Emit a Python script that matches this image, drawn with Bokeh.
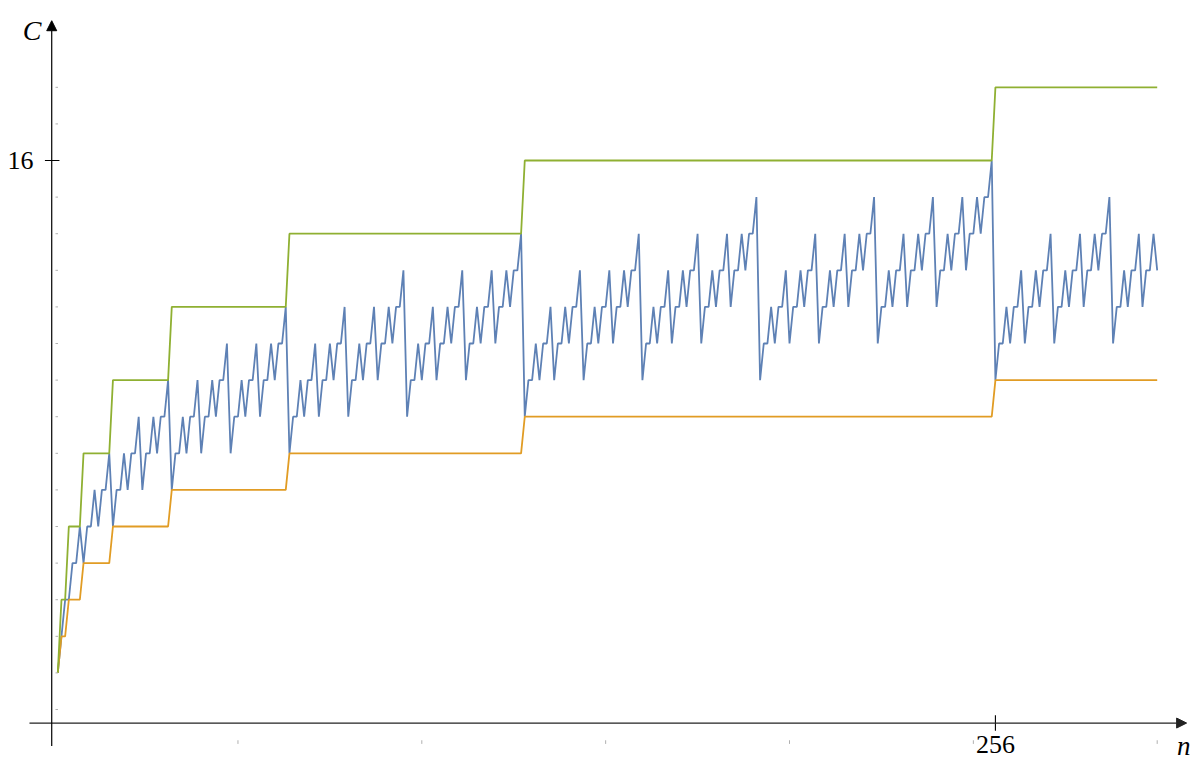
from bokeh.plotting import figure
from bokeh.models import Arrow, NormalHead, Label, Range1d
from bokeh.embed import file_html
from bokeh.resources import INLINE

# ---- data ----
n_values = list(range(1, 301))
blue_C = [
    2,
    3, 4,
    4, 5, 5, 6,
    5, 6, 6, 7, 6, 7, 7, 8,
    6, 7, 7, 8, 7, 8, 8, 9, 7, 8, 8, 9, 8, 9, 9, 10,
    7, 8, 8, 9, 8, 9, 9, 10, 8, 9, 9, 10, 9, 10, 10, 11,
    8, 9, 9, 10, 9, 10, 10, 11, 9, 10, 10, 11, 10, 11, 11, 12,
    8, 9, 9, 10, 9, 10, 10, 11, 9, 10, 10, 11, 10, 11, 11, 12,
    9, 10, 10, 11, 10, 11, 11, 12, 10, 11, 11, 12, 11, 12, 12, 13,
    9, 10, 10, 11, 10, 11, 11, 12, 10, 11, 11, 12, 11, 12, 12, 13,
    10, 11, 11, 12, 11, 12, 12, 13, 11, 12, 12, 13, 12, 13, 13, 14,
    9, 10, 10, 11, 10, 11, 11, 12, 10, 11, 11, 12, 11, 12, 12, 13,
    10, 11, 11, 12, 11, 12, 12, 13, 11, 12, 12, 13, 12, 13, 13, 14,
    10, 11, 11, 12, 11, 12, 12, 13, 11, 12, 12, 13, 12, 13, 13, 14,
    11, 12, 12, 13, 12, 13, 13, 14, 12, 13, 13, 14, 13, 14, 14, 15,
    10, 11, 11, 12, 11, 12, 12, 13, 11, 12, 12, 13, 12, 13, 13, 14,
    11, 12, 12, 13, 12, 13, 13, 14, 12, 13, 13, 14, 13, 14, 14, 15,
    11, 12, 12, 13, 12, 13, 13, 14, 12, 13, 13, 14, 13, 14, 14, 15,
    12, 13, 13, 14, 13, 14, 14, 15, 13, 14, 14, 15, 14, 15, 15, 16,
    10, 11, 11, 12, 11, 12, 12, 13, 11, 12, 12, 13, 12, 13, 13, 14,
    11, 12, 12, 13, 12, 13, 13, 14, 12, 13, 13, 14, 13, 14, 14, 15,
    11, 12, 12, 13, 12, 13, 13, 14, 12, 13, 13, 14, 13,
]
block_start = [1, 2, 4, 8, 16, 32, 64, 128, 256]
block_end = [1, 3, 7, 15, 31, 63, 127, 255, 300]
upper_C = [2, 4, 6, 8, 10, 12, 14, 16, 18]
lower_C = [2, 3, 4, 5, 6, 7, 8, 9, 10]

y_major = [16]
y_minor = [1, 2, 3, 4, 5, 6, 7, 8, 9, 10, 11, 12, 13, 14, 15, 17, 18]
x_major = [256]
x_minor = [50, 100, 150, 200, 250, 300]

BLUE = "#5E81B5"
ORANGE = "#E19C24"
GREEN = "#8FB032"

# axes crossing point (as drawn in the reference)
AX_X = -0.65
AX_Y = 0.63

p = figure(width=1197, height=760,
           x_range=Range1d(-14.58, 310.96), y_range=Range1d(-0.393, 20.372),
           output_backend="svg", toolbar_location=None, min_border=0,
           x_axis_location=None, y_axis_location=None)
p.grid.visible = False
p.outline_line_color = None
p.background_fill_color = "white"
p.border_fill_color = "white"

def steps(starts, ends, levels):
    xs, ys = [], []
    for s, e, v in zip(starts, ends, levels):
        xs += [s, e]
        ys += [v, v]
    return xs, ys

p.line(n_values, blue_C, line_color=BLUE, line_width=1.8)
ox, oy = steps(block_start, block_end, lower_C)
p.line(ox, oy, line_color=ORANGE, line_width=1.8)
gx, gy = steps(block_start, block_end, upper_C)
p.line(gx, gy, line_color=GREEN, line_width=1.8)

# axes with arrowheads
p.add_layout(Arrow(x_start=-6.7, y_start=AX_Y, x_end=308.0, y_end=AX_Y,
                   line_color="#222222", line_width=1.2,
                   end=NormalHead(size=10, fill_color="#222222", line_color="#222222")))
p.add_layout(Arrow(x_start=AX_X, y_start=0.0, x_end=AX_X, y_end=19.82,
                   line_color="black", line_width=1.2,
                   end=NormalHead(size=10, fill_color="black", line_color="black")))

# major ticks
p.segment(x0=[-2.5] * len(y_major), y0=y_major, x1=[1.45] * len(y_major), y1=y_major,
          line_color="black", line_width=1.1)
p.segment(x0=x_major, y0=[0.84] * len(x_major), x1=x_major, y1=[0.42] * len(x_major),
          line_color="black", line_width=1.1)
# minor ticks
p.segment(x0=[0.38] * len(y_minor), y0=y_minor, x1=[1.06] * len(y_minor), y1=y_minor,
          line_color="#b0b0b0", line_width=1)
p.segment(x0=x_minor, y0=[0.16] * len(x_minor), x1=x_minor, y1=[0.06] * len(x_minor),
          line_color="#b0b0b0", line_width=1)

FONT = "Liberation Serif"
p.add_layout(Label(x=-5.6, y=16, text="16", text_font=FONT, text_font_size="26px",
                   text_align="right", text_baseline="middle", text_color="black"))
p.add_layout(Label(x=256, y=0.27, text="256", text_font=FONT, text_font_size="26px",
                   text_align="center", text_baseline="top", text_color="black"))
p.add_layout(Label(x=-6.0, y=19.55, text="C", text_font=FONT, text_font_size="28px",
                   text_font_style="italic", text_align="center",
                   text_baseline="alphabetic", text_color="black"))
p.add_layout(Label(x=307.2, y=0.42, text="n", text_font=FONT, text_font_size="27px",
                   text_font_style="italic", text_align="center",
                   text_baseline="top", text_color="black"))

open("out.html", "w").write(file_html(p, INLINE))
